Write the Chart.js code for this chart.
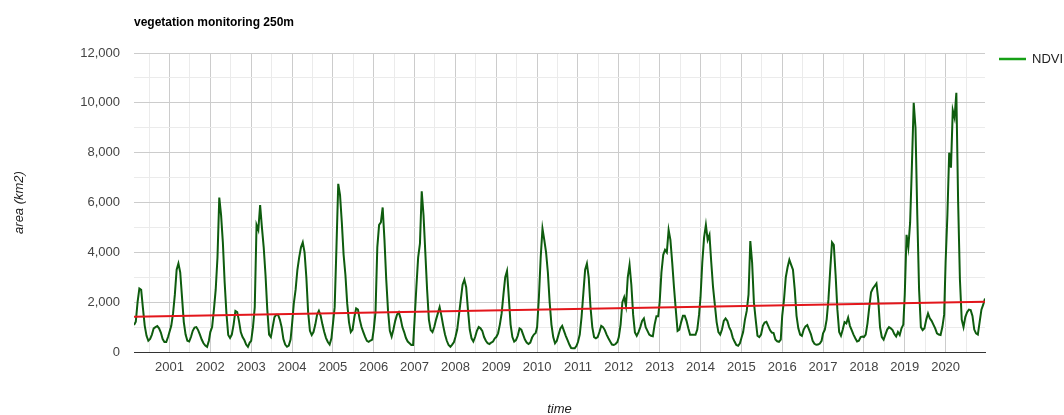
<!DOCTYPE html>
<html>
<head>
<meta charset="utf-8">
<script src="https://cdn.jsdelivr.net/npm/chart.js@4.4.1/dist/chart.umd.min.js"></script>
<style>
  html, body { margin: 0; padding: 0; background: #fff; }
  #wrap { width: 1064px; height: 415px; position: relative; }
</style>
</head>
<body>
<div id="wrap"><canvas id="chart"></canvas></div>
<script>
// ─── Data: 16-day composites, area in km2 (2000 starts at DOY 49) ───
const y2000 = [1080, 1220, 2000, 2550, 2500, 1750, 1050, 650, 450, 520, 700, 950, 1000, 1040, 950, 780, 520, 400, 400, 600];
const y2001 = [800, 1050, 1550, 2300, 3300, 3550, 3200, 2200, 1200, 700, 450, 420, 600, 850, 980, 1000, 880, 700, 500, 350, 260, 210, 450];
const y2002 = [800, 1000, 1700, 2500, 3800, 6200, 5500, 4400, 2800, 1550, 680, 560, 700, 1100, 1650, 1600, 1250, 800, 600, 480, 300, 210, 380];
const y2003 = [450, 990, 1800, 5100, 4900, 5900, 5000, 4200, 3100, 1700, 700, 600, 1000, 1400, 1500, 1500, 1300, 1000, 520, 300, 210, 260, 500];
const y2004 = [1100, 1950, 2500, 3300, 3800, 4200, 4400, 4000, 3000, 1600, 850, 680, 800, 1100, 1500, 1650, 1450, 1100, 800, 560, 400, 300, 550];
const y2005 = [1100, 1800, 4200, 6750, 6300, 5200, 3900, 3100, 1950, 1200, 800, 900, 1400, 1750, 1700, 1300, 1000, 800, 610, 450, 410, 460, 500];
const y2006 = [900, 1600, 4200, 5100, 5200, 5800, 4500, 2900, 1650, 850, 620, 900, 1250, 1500, 1600, 1350, 1000, 800, 560, 420, 350, 280, 280];
const y2007 = [1300, 2600, 3800, 4350, 6450, 5500, 4000, 2500, 1300, 880, 800, 1000, 1300, 1550, 1800, 1450, 1050, 700, 450, 280, 210, 300, 400];
const y2008 = [600, 900, 1500, 2100, 2700, 2900, 2600, 1700, 900, 550, 420, 600, 850, 1000, 950, 850, 600, 450, 350, 320, 380, 420, 550];
const y2009 = [600, 750, 1100, 1550, 2300, 3000, 3250, 2200, 1100, 600, 420, 480, 650, 950, 900, 700, 500, 380, 320, 380, 580, 700, 760];
const y2010 = [1000, 2200, 3800, 4950, 4500, 4000, 3200, 2000, 1100, 600, 350, 450, 700, 950, 1050, 850, 650, 480, 300, 160, 150, 150, 250];
const y2011 = [400, 700, 1400, 2350, 3300, 3550, 3000, 1800, 1000, 600, 550, 600, 800, 1050, 1000, 880, 700, 550, 420, 300, 280, 320, 400];
const y2012 = [600, 1100, 2000, 2200, 1850, 3000, 3500, 2700, 1500, 780, 650, 800, 1000, 1250, 1350, 1000, 850, 700, 650, 630, 1100, 1430, 1430];
const y2013 = [2000, 3200, 3900, 4100, 4000, 4900, 4500, 3600, 2600, 1700, 850, 900, 1200, 1450, 1450, 1250, 950, 690, 690, 690, 690, 900, 1500];
const y2014 = [2200, 3600, 4600, 5100, 4500, 4700, 3600, 2600, 1900, 1200, 800, 700, 900, 1250, 1350, 1250, 1000, 850, 580, 420, 280, 250, 350];
const y2015 = [550, 800, 1300, 1650, 2300, 4450, 3600, 2000, 1300, 650, 600, 700, 1050, 1180, 1210, 1050, 880, 780, 760, 500, 430, 410, 500];
const y2016 = [1450, 2100, 3000, 3400, 3700, 3500, 3300, 2500, 1450, 950, 700, 650, 900, 1030, 1080, 900, 720, 450, 330, 290, 300, 340, 450];
const y2017 = [750, 900, 1300, 2100, 3300, 4400, 4300, 3100, 1700, 800, 650, 900, 1200, 1150, 1380, 1050, 880, 700, 550, 420, 450, 600, 620];
const y2018 = [600, 700, 1150, 1800, 2400, 2550, 2650, 2750, 2100, 1000, 600, 500, 700, 900, 1000, 950, 880, 720, 620, 800, 680, 950, 1100];
const y2019 = [2300, 4700, 4200, 5200, 7500, 10000, 9000, 5500, 2500, 1000, 880, 950, 1300, 1550, 1350, 1250, 1100, 950, 750, 700, 680, 1000, 1500];
const y2020 = [3600, 5500, 8000, 7400, 9700, 9400, 10400, 6000, 2900, 1300, 1000, 1400, 1600, 1700, 1680, 1450, 900, 750, 700, 1200, 1700, 1900, 2150];

const years = [2000, 2001, 2002, 2003, 2004, 2005, 2006, 2007, 2008, 2009, 2010,
               2011, 2012, 2013, 2014, 2015, 2016, 2017, 2018, 2019, 2020];
const ndviByYear = [y2000, y2001, y2002, y2003, y2004, y2005, y2006, y2007, y2008, y2009, y2010,
                    y2011, y2012, y2013, y2014, y2015, y2016, y2017, y2018, y2019, y2020];

// linear trend end points
const trendTime = [2000 + 48 / 365, 2020 + 352 / 365];
const trendArea = [1410, 2015];

const yTickValues = [0, 2000, 4000, 6000, 8000, 10000, 12000];

// ─── Build points ─────────────────────────────────────────────────
const ndviPoints = [];
ndviByYear.forEach((vals, k) => {
  const first = 23 - vals.length;
  vals.forEach((v, j) => {
    ndviPoints.push({ x: years[k] + 16 * (first + j) / 365, y: v });
  });
});
const trendPoints = trendTime.map((t, i) => ({ x: t, y: trendArea[i] }));

const xTickValues = [];
for (let y = 2000.5; y <= 2020.5; y += 0.5) xTickValues.push(y);

const FONT = 'Arial, "Liberation Sans", sans-serif';

// title, legend and axis titles
const decor = {
  id: 'decor',
  afterDraw(chart) {
    const ctx = chart.ctx;
    const area = chart.chartArea;
    ctx.save();
    ctx.textBaseline = 'middle';

    ctx.fillStyle = '#000';
    ctx.font = `bold 12px ${FONT}`;
    ctx.textAlign = 'left';
    ctx.fillText('vegetation monitoring 250m', 134, 23);

    // legend
    ctx.strokeStyle = '#16a016';
    ctx.lineWidth = 2.5;
    ctx.beginPath();
    ctx.moveTo(999, 59);
    ctx.lineTo(1026, 59);
    ctx.stroke();
    ctx.fillStyle = '#222';
    ctx.font = `13px ${FONT}`;
    ctx.fillText('NDVI', 1032, 59);

    // axis titles
    ctx.font = `italic 13px ${FONT}`;
    ctx.textAlign = 'center';
    ctx.fillText('time', (area.left + area.right) / 2, 409);
    ctx.translate(19, (area.top + area.bottom) / 2);
    ctx.rotate(-Math.PI / 2);
    ctx.fillText('area (km2)', 0, 0);
    ctx.restore();
  }
};

new Chart(document.getElementById('chart'), {
  type: 'line',
  data: {
    datasets: [
      { label: 'trend', data: trendPoints, borderColor: '#e3161b', borderWidth: 2,
        pointRadius: 0, order: 0 },
      { label: 'NDVI', data: ndviPoints, borderColor: '#0e5c0e', borderWidth: 2,
        pointRadius: 0, tension: 0, order: 1 }
    ]
  },
  options: {
    responsive: true,
    maintainAspectRatio: false,
    animation: false,
    devicePixelRatio: 1,
    layout: { padding: { left: 0, right: 79, top: 53, bottom: 0 } },
    plugins: { legend: { display: false }, title: { display: false }, tooltip: { enabled: false } },
    scales: {
      x: {
        type: 'linear',
        min: 2000 + 48 / 365,
        max: 2020 + 352 / 365,
        afterBuildTicks: s => { s.ticks = xTickValues.map(v => ({ value: v })); },
        afterFit: s => { s.height = 63; },
        ticks: {
          autoSkip: false, maxRotation: 0, padding: 8, color: '#444',
          font: { size: 13, family: FONT },
          callback: v => Number.isInteger(v) ? String(v) : ''
        },
        grid: {
          drawTicks: false,
          color: c => (c.tick && Number.isInteger(c.tick.value)) ? '#cccccc' : '#ebebeb'
        },
        border: { display: true, color: '#333', width: 1 }
      },
      y: {
        min: 0,
        max: 12000,
        afterFit: s => { s.width = 134; },
        ticks: {
          stepSize: 1000, padding: 14, color: '#444',
          font: { size: 13, family: FONT },
          callback: v => yTickValues.includes(v) ? v.toLocaleString('en-US') : ''
        },
        grid: {
          drawTicks: false,
          color: c => c.tick.value === 0 ? 'rgba(0,0,0,0)' :
                      (yTickValues.includes(c.tick.value) ? '#cccccc' : '#ebebeb')
        },
        border: { display: false }
      }
    }
  },
  plugins: [decor]
});
</script>
</body>
</html>
